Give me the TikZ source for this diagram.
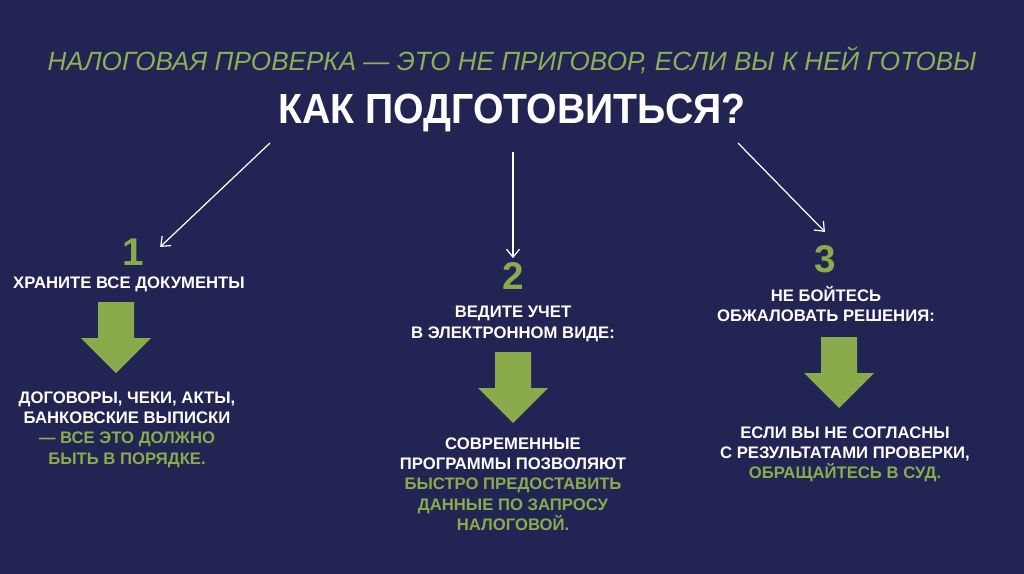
\documentclass[tikz,border=0pt]{standalone}
\usepackage{fontspec}
\setmainfont{Liberation Sans}
\usepackage{xcolor}
\usepackage{graphicx}
\usepackage{tikz}
\usetikzlibrary{arrows.meta, positioning, calc}

\definecolor{navy}{RGB}{34,37,84}
\definecolor{leaf}{RGB}{139,170,75}
\definecolor{leaflight}{RGB}{143,174,86}

% big green down arrow: #1 = centre x, #2 = top y (pixels)
\newcommand{\bigdown}[2]{%
  \fill[leaf] (#1-18,#2) -- (#1+18,#2) -- (#1+18,#2+36) -- (#1+35,#2+36)
    -- (#1,#2+71) -- (#1-35,#2+36) -- (#1-18,#2+36) -- cycle;}

\begin{document}
\begin{tikzpicture}[
    x=0.02cm, y=-0.02cm,
    heading/.style={text=white, font=\bfseries\fontsize{9.5}{11.6}\selectfont, align=center, inner sep=0pt, anchor=north},
    note/.style={heading},
    num/.style={text=leaf, font=\bfseries\fontsize{22}{24}\selectfont, inner sep=0pt},
    thin arrow/.style={white, line width=0.7pt, -{Straight Barb[length=1.6mm, width=2.6mm]}},
]

% background
\fill[navy] (0,0) rectangle (1024,574);

% Titles
\node[text=leaflight, font=\itshape\fontsize{15}{17}\selectfont, inner sep=0pt] (sub) at (512,60)
    {\scalebox{0.99}[1]{НАЛОГОВАЯ ПРОВЕРКА — ЭТО НЕ ПРИГОВОР, ЕСЛИ ВЫ К НЕЙ ГОТОВЫ}};
\node[text=white, font=\bfseries\fontsize{24}{26}\selectfont, inner sep=0pt] (title) at (512,113)
    {\scalebox{0.93}[1]{КАК ПОДГОТОВИТЬСЯ?}};

% Numbers
\node[num] (n1) at (133,252) {1};
\node[num] (n2) at (513,276) {2};
\node[num] (n3) at (825,259) {3};

% Column 1
\node[heading] (h1) at (129,276) {ХРАНИТЕ ВСЕ ДОКУМЕНТЫ};
\bigdown{116}{302}
\node[note] (b1) at (127,391) {ДОГОВОРЫ, ЧЕКИ, АКТЫ,\\БАНКОВСКИЕ ВЫПИСКИ\\
    \textcolor{leaf}{— ВСЕ ЭТО ДОЛЖНО}\\\textcolor{leaf}{БЫТЬ В ПОРЯДКЕ.}};

% Column 2
\node[heading] (h2) at (513,306) {ВЕДИТЕ УЧЕТ\\В ЭЛЕКТРОННОМ ВИДЕ:};
\bigdown{513}{352}
\node[note] (b2) at (513,437) {СОВРЕМЕННЫЕ\\ПРОГРАММЫ ПОЗВОЛЯЮТ\\
    \textcolor{leaf}{БЫСТРО ПРЕДОСТАВИТЬ}\\\textcolor{leaf}{ДАННЫЕ ПО ЗАПРОСУ}\\\textcolor{leaf}{НАЛОГОВОЙ.}};

% Column 3
\node[heading] (h3) at (826,286) {НЕ БОЙТЕСЬ\\ОБЖАЛОВАТЬ РЕШЕНИЯ:};
\bigdown{839}{337}
\node[note] (b3) at (845,426) {ЕСЛИ ВЫ НЕ СОГЛАСНЫ\\С РЕЗУЛЬТАТАМИ ПРОВЕРКИ,\\
    \textcolor{leaf}{ОБРАЩАЙТЕСЬ В СУД.}};

% Arrows from the question
\coordinate (s1) at (270,143);
\coordinate (s2) at (513,152);
\coordinate (s3) at (738,143);
\draw[thin arrow] (s1) -- ($(n1.east)+(16,-5)$);
\draw[thin arrow] (s2) -- ($(n2.north)+(0,-4)$);
\draw[thin arrow] (s3) -- ($(n3.north)+(0,-13)$);

\end{tikzpicture}
\end{document}
